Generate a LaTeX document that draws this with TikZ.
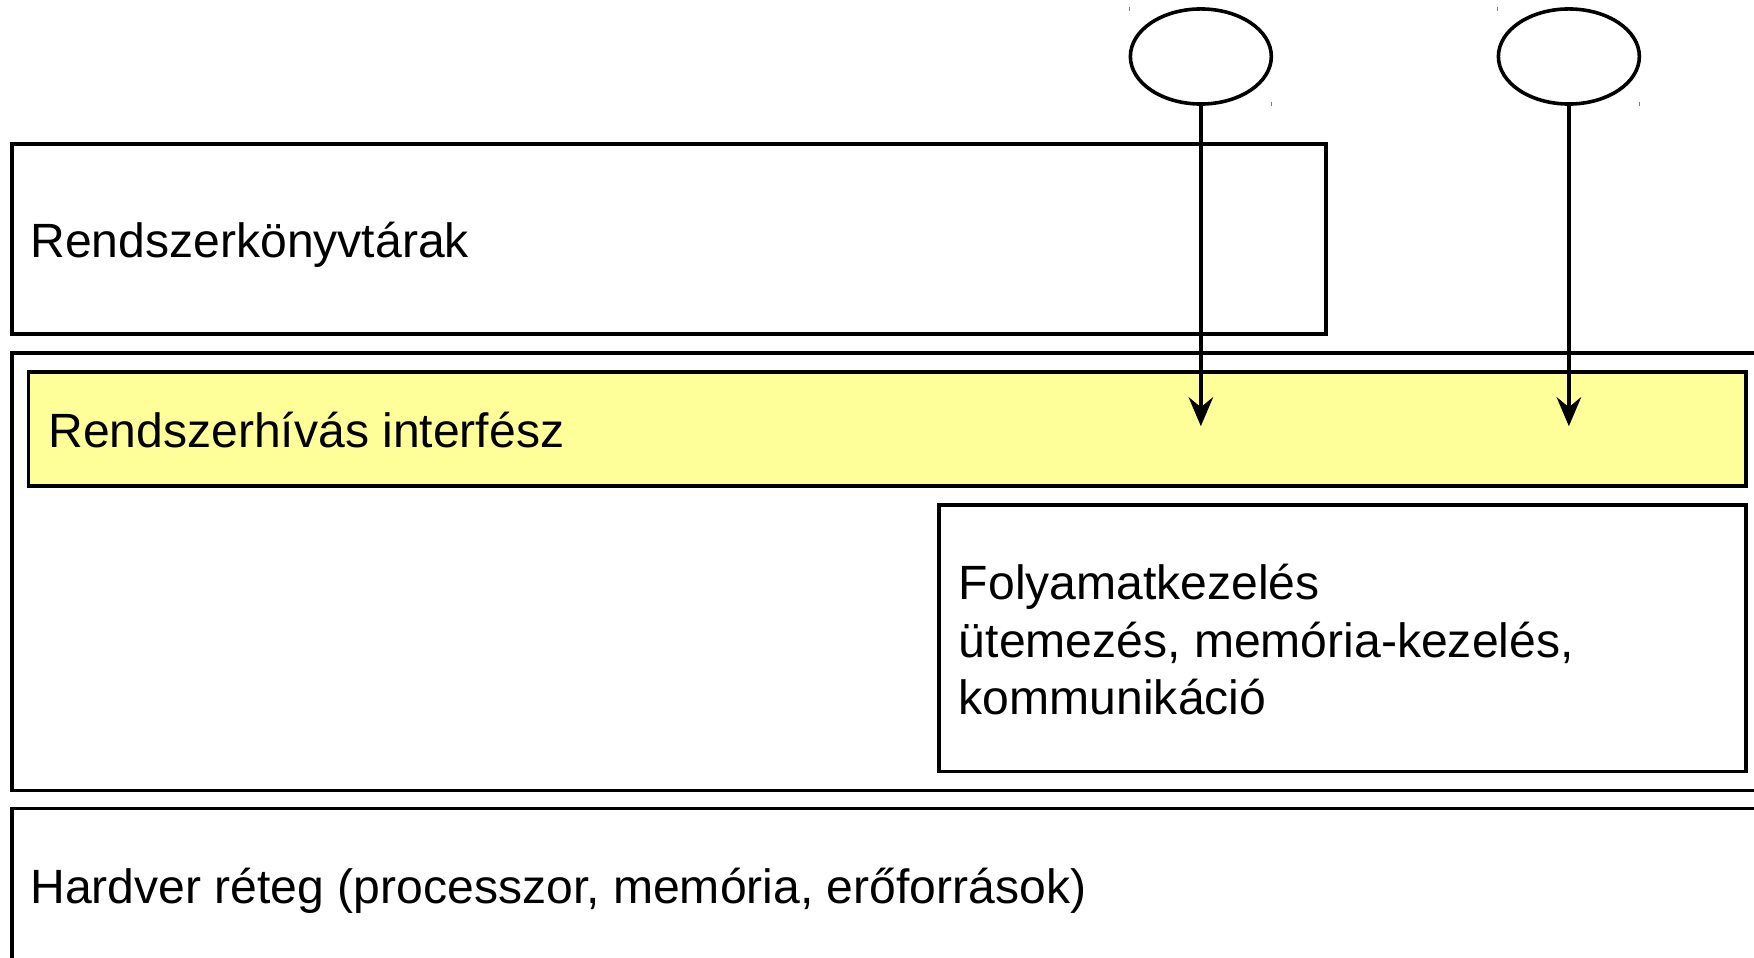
\documentclass[tikz,border=0pt]{standalone}
\usepackage{fontspec}
\setmainfont{Liberation Sans}
\usetikzlibrary{shapes.geometric,arrows.meta}
\definecolor{ifyellow}{HTML}{FFFF99}
\begin{document}
\begin{tikzpicture}[x=1pt,y=-1pt,
  box/.style={draw=black,line width=3.2pt,rectangle,inner sep=0pt,anchor=north west},
  oval/.style={draw=black,line width=3.2pt,ellipse,inner sep=0pt,minimum width=126pt,minimum height=85pt},
  lbl/.style={anchor=base west,inner sep=0pt,font=\fontsize{43}{52}\selectfont},
  arr/.style={line width=3pt,-{Stealth[length=26pt,width=22pt,inset=9pt]}},
  tick/.style={draw=gray,line width=1pt}]
\useasboundingbox (0,0) rectangle (1568,856);
\clip (0,0) rectangle (1568,856);
% boxes
\node[box,minimum width=1175pt,minimum height=170pt] (lib) at (9,127) {};
\node[box,minimum width=1600pt,minimum height=391pt] (kern) at (9,314) {};
\node[box,fill=ifyellow,minimum width=1535pt,minimum height=102pt] (sci) at (24,331) {};
\node[box,minimum width=721pt,minimum height=238pt] (proc) at (838,450) {};
\node[box,minimum width=1600pt,minimum height=200pt] (hw) at (9,721) {};
% texts
\node[lbl] (tlib) at (27,230) {Rendszerkönyvtárak};
\node[lbl] (tsci) at (43,400) {Rendszerhívás interfész};
\node[lbl] (tp1) at (857,536) {Folyamatkezelés};
\node[lbl] (tp2) at (857,588) {ütemezés, memória-kezelés,};
\node[lbl] (tp3) at (857,639) {kommunikáció};
\node[lbl] (thw) at (27,808) {Hardver réteg (processzor, memória, erőforrások)};
% ellipses
\node[oval] (e1) at (1073.5,50.5) {};
\node[oval] (e2) at (1402.5,50.5) {};
\coordinate (t1) at (1073.5,381);
\coordinate (t2) at (1402.5,381);
\draw[arr] (e1.south) -- (t1);
\draw[arr] (e2.south) -- (t2);
% small corner ticks
\draw[tick] (1010,6) -- (1010,10);
\draw[tick] (1137,91) -- (1137,95);
\draw[tick] (1339,6) -- (1339,10);
\draw[tick] (1466,91) -- (1466,95);
\end{tikzpicture}
\end{document}
